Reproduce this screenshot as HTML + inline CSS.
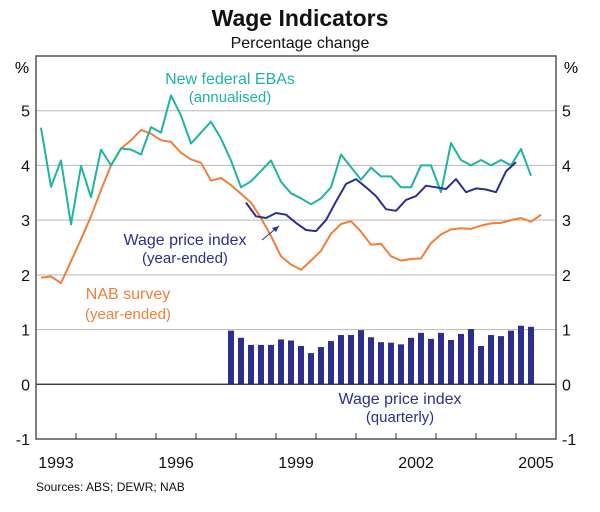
<!DOCTYPE html>
<html><head><meta charset="utf-8"><style>
body{margin:0;background:#fff}
svg text{font-family:"Liberation Sans",Arial,sans-serif}
</style></head><body>
<svg id="chart" width="600" height="507">
<text x="300" y="26" text-anchor="middle" font-size="23" font-weight="bold" fill="#111">Wage Indicators</text>
<text x="300" y="48" text-anchor="middle" font-size="16" fill="#111">Percentage change</text>
<g id="grid"></g><g id="bars"></g><g id="lines"></g><g id="axes"></g>
<text x="22" y="73" text-anchor="middle" font-size="16">%</text>
<text x="571" y="73" text-anchor="middle" font-size="16">%</text>
<text x="230" y="84" text-anchor="middle" font-size="16" fill="#1fb3a3">New federal EBAs</text>
<text x="230" y="102" text-anchor="middle" font-size="15" fill="#1fb3a3">(annualised)</text>
<text x="185" y="245" text-anchor="middle" font-size="16" fill="#2e2e8e">Wage price index</text>
<text x="185" y="263" text-anchor="middle" font-size="15" fill="#2e2e8e">(year-ended)</text>
<line x1="262" y1="240" x2="279" y2="226" stroke="#2e2e8e" stroke-width="1"/>
<path d="M279 226 L272 228 L276 232 Z" fill="#2e2e8e"/>
<text x="128" y="299" text-anchor="middle" font-size="16" fill="#f07f3c">NAB survey</text>
<text x="128" y="319" text-anchor="middle" font-size="15" fill="#f07f3c">(year-ended)</text>
<text x="400" y="404" text-anchor="middle" font-size="16" fill="#2e2e8e">Wage price index</text>
<text x="400" y="422" text-anchor="middle" font-size="15" fill="#2e2e8e">(quarterly)</text>
<text x="36" y="491" font-size="12" fill="#111">Sources: ABS; DEWR; NAB</text>
</svg>
<script>
const ebaValues=[4.69,3.61,4.09,2.92,3.99,3.42,4.29,4.0,4.31,4.29,4.2,4.7,4.6,5.28,4.91,4.4,4.6,4.8,4.49,4.09,3.6,3.71,3.9,4.09,3.7,3.49,3.4,3.29,3.4,3.6,4.2,3.97,3.74,3.96,3.8,3.8,3.6,3.6,4.0,4.0,3.51,4.41,4.1,4.0,4.1,4.0,4.1,4.0,4.3,3.81];
const nabValues=[1.95,1.97,1.85,2.25,2.65,3.07,3.55,4.0,4.31,4.46,4.65,4.58,4.46,4.43,4.23,4.11,4.05,3.72,3.77,3.64,3.48,3.32,3.04,2.71,2.34,2.19,2.09,2.26,2.44,2.75,2.93,2.98,2.79,2.55,2.57,2.34,2.26,2.29,2.3,2.58,2.74,2.83,2.85,2.84,2.9,2.94,2.95,3.0,3.04,2.97,3.1];
const wpiYearValues=[3.32,3.07,3.04,3.13,3.1,2.95,2.82,2.8,3.0,3.34,3.66,3.75,3.6,3.44,3.2,3.17,3.37,3.44,3.63,3.6,3.57,3.75,3.51,3.58,3.56,3.51,3.89,4.06];
const wpiQuarterValues=[0.98,0.85,0.72,0.72,0.72,0.82,0.80,0.70,0.57,0.68,0.79,0.90,0.90,0.99,0.86,0.77,0.76,0.73,0.85,0.94,0.83,0.94,0.81,0.92,1.01,0.70,0.90,0.88,0.98,1.07,1.05];
const ebaStart=1993.125, nabStart=1993.125, wpiYearStart=1998.25, wpiQStart=1997.875;
const yTicks=[-1,0,1,2,3,4,5];
const xTickYears=[1993,1996,1999,2002,2005];
const L=36,R=556,T=56,B=439,T0=1993,T1=2006,V0=-1,V1=6;
const x=t=>L+(t-T0)/(T1-T0)*(R-L);
const y=v=>B-(v-V0)/(V1-V0)*(B-T);
const NS='http://www.w3.org/2000/svg';
function mk(tag,parent,attrs){const e=document.createElementNS(NS,tag);for(const k in attrs)e.setAttribute(k,attrs[k]);document.getElementById(parent).appendChild(e);return e;}
yTicks.forEach(v=>{
  if(v>-1&&v!==0){const g=mk('line','grid',{x1:L,x2:R,y1:y(v),y2:y(v),stroke:'#b8b8b8','stroke-width':1});
  
  }
  const a=mk('text','axes',{x:30,y:y(v)+6,'text-anchor':'end','font-size':16,fill:'#111'});a.textContent=v;
  
  
  const b=mk('text','axes',{x:562,y:y(v)+6,'text-anchor':'start','font-size':16,fill:'#111'});b.textContent=v;
  
  
});
wpiQuarterValues.forEach((v,i)=>{
  const cx=x(wpiQStart+i*0.25);
  const r=mk('rect','bars',{x:cx-3,width:6,y:y(v),height:y(0)-y(v),fill:'#2e2e8e'});
  
  
});
function line(vals,start,color,name){
  const p=vals.map((v,i)=>x(start+i*0.25).toFixed(1)+','+y(v).toFixed(1)).join(' ');
  const e=mk('polyline','lines',{points:p,fill:'none',stroke:color,'stroke-width':2,'stroke-linejoin':'round'});
  
  
}
line(nabValues,nabStart,'#f07f3c','nab-line');
line(ebaValues,ebaStart,'#1fb3a3','eba-line');
line(wpiYearValues,wpiYearStart,'#2e2e8e','wpi-year-line');
const z=mk('line','axes',{x1:L,x2:R,y1:y(0),y2:y(0),stroke:'#222','stroke-width':1.2});


const box=mk('rect','axes',{x:L,y:T,width:R-L,height:B-T,fill:'none',stroke:'#555','stroke-width':1.5});


for(let t=T0+1;t<T1;t++){
  const tk=mk('line','axes',{x1:x(t),x2:x(t),y1:B,y2:B-6,stroke:'#333','stroke-width':1});
  
  
}
xTickYears.forEach(t=>{
  const e=mk('text','axes',{x:x(t+0.5),y:468,'text-anchor':'middle','font-size':16,fill:'#111'});e.textContent=t;
  
  
});
</script>
</body></html>
